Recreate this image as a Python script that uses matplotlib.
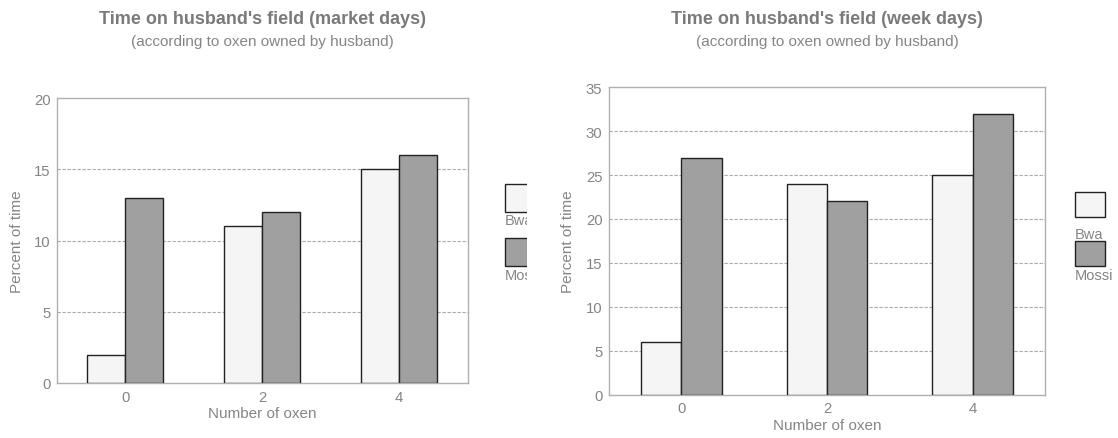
import matplotlib
matplotlib.use("Agg")
import matplotlib.pyplot as plt
from matplotlib.patches import Rectangle
import numpy as np

plt.rcParams["font.family"] = ["Liberation Sans", "DejaVu Sans"]

oxen_labels = ["0", "2", "4"]
groups = ["Bwa", "Mossi"]
market_bwa = [2, 11, 15]
market_mossi = [13, 12, 16]
week_bwa = [6, 24, 25]
week_mossi = [27, 22, 32]

bar_colors = ["#f5f5f5", "#a0a0a0"]
edge_color = "#222222"
frame_color = "#b0b0b0"
text_color = "#858585"
title_color = "#7a7a7a"

W, H = 1118, 439
fig = plt.figure(figsize=(W / 100, H / 100), dpi=100)


def px_axes(x0, y_top, x1, y_bot):
    return fig.add_axes([x0 / W, 1 - y_bot / H, (x1 - x0) / W, (y_bot - y_top) / H])


def draw_panel(box, bwa, mossi, ymax, title, ylabel_x, xlabel_y):
    x0, y_top, x1, y_bot = box
    ax = px_axes(x0, y_top, x1, y_bot)
    x = np.arange(len(oxen_labels))
    w = 0.276
    ax.bar(x - w / 2, bwa, w, color=bar_colors[0], edgecolor=edge_color, linewidth=1.0, zorder=3)
    ax.bar(x + w / 2, mossi, w, color=bar_colors[1], edgecolor=edge_color, linewidth=1.0, zorder=3)
    ax.set_xlim(-0.5, 2.5)
    ax.set_ylim(0, ymax)
    ax.set_yticks(np.arange(0, ymax + 1, 5))
    ax.set_xticks(x)
    ax.set_xticklabels(oxen_labels)
    for t in np.arange(5, ymax, 5):
        ax.axhline(t, color="#aaaaaa", linestyle=(0, (3, 1.5)), linewidth=0.8, zorder=1)
    for s in ax.spines.values():
        s.set_color(frame_color)
        s.set_linewidth(1.0)
    ax.tick_params(axis="y", length=0, pad=4.5, labelsize=10.7, colors=text_color)
    ax.tick_params(axis="x", length=0, pad=5, labelsize=10.7, colors=text_color)

    cx = (x0 + x1) / 2 / W
    cy = 1 - (y_top + y_bot) / 2 / H
    fig.text(ylabel_x / W, cy, "Percent of time", rotation=90, ha="center", va="center",
             fontsize=11, color=text_color)
    fig.text(cx, 1 - xlabel_y / H, "Number of oxen", ha="center", va="center",
             fontsize=11, color=text_color)
    fig.text(cx, 1 - 20 / H, title, ha="center", va="center", fontsize=13,
             fontweight="bold", color=title_color)
    fig.text(cx, 1 - 42 / H, "(according to oxen owned by husband)", ha="center",
             va="center", fontsize=11, color=text_color)
    return ax


def draw_legend(box_x, box_w, box_h, tops, text_ys, clip_right=None):
    lax = px_axes(0, 0, W, H)
    lax.set_xlim(0, W)
    lax.set_ylim(H, 0)
    lax.axis("off")
    clip = None
    if clip_right is not None:
        clip = Rectangle((0, 0), clip_right, H, transform=lax.transData)
    for name, color, top, ty in zip(groups, bar_colors, tops, text_ys):
        r = Rectangle((box_x, top), box_w, box_h, facecolor=color, edgecolor=edge_color, linewidth=1.0)
        lax.add_patch(r)
        t = lax.text(box_x, ty, name, ha="left", va="center", fontsize=10.5, color=text_color)
        if clip is not None:
            r.set_clip_path(clip)
            t.set_clip_path(clip)
            t.set_clip_on(True)


draw_panel((56.7, 99.3, 467.7, 384), market_bwa, market_mossi, 20,
           "Time on husband's field (market days)", 17.5, 414)
draw_panel((608.7, 88.3, 1045.3, 395.5), week_bwa, week_mossi, 35,
           "Time on husband's field (week days)", 568.3, 426)

draw_legend(505, 30, 28, [185.3, 238.7], [221, 276], clip_right=527)
draw_legend(1075, 30, 25, [192.7, 241.7], [235, 276])

fig.savefig("out.png", dpi=100)
